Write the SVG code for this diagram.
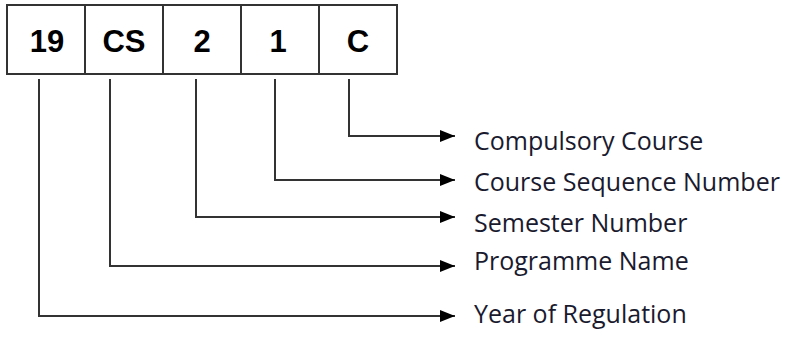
<svg xmlns="http://www.w3.org/2000/svg" width="788" height="337" viewBox="0 0 788 337">
<style>
.box{fill:#fff;stroke:#333;stroke-width:2}
.code{font-family:"Liberation Sans",Arial,sans-serif;font-weight:bold;font-size:31px;fill:#000;text-anchor:middle}
.lbl{font-family:"Open Sans","Noto Sans",sans-serif;font-size:25px;fill:#1a1a2e}
.conn{fill:none;stroke:#333;stroke-width:2;marker-end:url(#ah)}
</style>
<defs>
<marker id="ah" markerUnits="userSpaceOnUse" markerWidth="16" markerHeight="14" refX="15" refY="6" orient="auto">
<path d="M0,0 L15,6 L0,12 Z" fill="#000"/>
</marker>
</defs>
<rect width="788" height="337" fill="#fff"/>
<g id="node-19"><rect class="box" x="7" y="5" width="78" height="69"/><text class="code" x="47" y="52">19</text></g>
<g id="node-CS"><rect class="box" x="85" y="5" width="78" height="69"/><text class="code" x="124" y="52">CS</text></g>
<g id="node-2"><rect class="box" x="163" y="5" width="78" height="69"/><text class="code" x="202" y="52">2</text></g>
<g id="node-1"><rect class="box" x="241" y="5" width="78" height="69"/><text class="code" x="278" y="52">1</text></g>
<g id="node-C"><rect class="box" x="319" y="5" width="78" height="69"/><text class="code" x="358" y="52">C</text></g>
<g id="connectors">
<path class="conn" d="M349,79 V136 H455"/>
<path class="conn" d="M275,79 V180 H455"/>
<path class="conn" d="M196,79 V217 H455"/>
<path class="conn" d="M110,79 V266 H455"/>
<path class="conn" d="M39,79 V316 H455"/>
</g>
<g id="labels">
<text class="lbl" x="474" y="150">Compulsory Course</text>
<text class="lbl" x="474" y="191">Course Sequence Number</text>
<text class="lbl" x="474" y="232">Semester Number</text>
<text class="lbl" x="474" y="270">Programme Name</text>
<text class="lbl" x="474" y="323">Year of Regulation</text>
</g>
</svg>
